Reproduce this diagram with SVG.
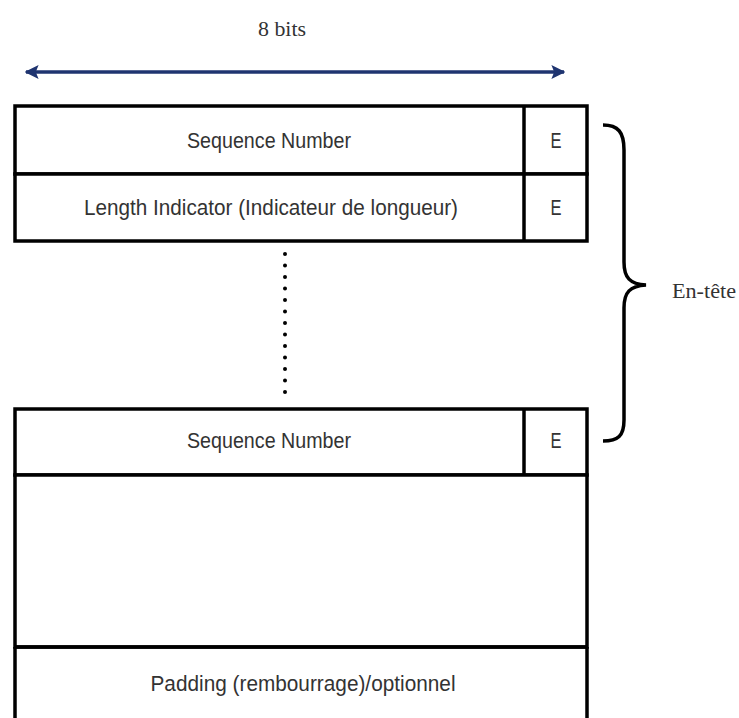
<svg xmlns="http://www.w3.org/2000/svg" width="739" height="718" viewBox="0 0 739 718">
<style>
.box{fill:#fff;stroke:#000;stroke-width:3.5}
.ln{stroke:#000;stroke-width:3.5}
.lbl{font-family:"Liberation Sans","DejaVu Sans",sans-serif;font-size:22px;fill:#333;text-anchor:middle}
.ser{font-family:"Liberation Serif","Times New Roman",serif;font-size:22px;fill:#333}
</style>
<defs>
<marker id="ah" viewBox="0 0 10 10" refX="9" refY="5" markerWidth="4" markerHeight="4" orient="auto-start-reverse" markerUnits="strokeWidth">
<path d="M0,0 L10,5 L0,10 L2,5 Z" fill="#1f3470"/>
</marker>
</defs>
<rect width="739" height="718" fill="#fff"/>
<g id="width-label">
<text class="ser" x="282" y="36" text-anchor="middle" textLength="48" lengthAdjust="spacingAndGlyphs">8 bits</text>
</g>
<g id="connectors">
<line x1="26" y1="72" x2="564" y2="72" stroke="#1f3470" stroke-width="3.5" marker-start="url(#ah)" marker-end="url(#ah)"/>
<line x1="285" y1="254" x2="285" y2="394" stroke="#000" stroke-width="4" stroke-linecap="round" stroke-dasharray="0 11.5"/>
<path d="M603,125 C618,125 624,132 624,150 L624,262 C624,278 630,284 646,285 C630,286 624,292 624,308 L624,420 C624,436 618,441 603,441" fill="none" stroke="#000" stroke-width="3.5"/>
</g>
<g id="row1">
<rect class="box" x="15" y="106" width="572" height="68"/>
<line class="ln" x1="524" y1="106" x2="524" y2="174"/>
<text class="lbl" x="269" y="148" textLength="164" lengthAdjust="spacingAndGlyphs">Sequence Number</text>
<text class="lbl" x="556" y="148" textLength="11" lengthAdjust="spacingAndGlyphs">E</text>
</g>
<g id="row2">
<rect class="box" x="15" y="174" width="572" height="67"/>
<line class="ln" x1="524" y1="174" x2="524" y2="241"/>
<text class="lbl" x="271" y="215" textLength="374" lengthAdjust="spacingAndGlyphs">Length Indicator (Indicateur de longueur)</text>
<text class="lbl" x="556" y="215" textLength="11" lengthAdjust="spacingAndGlyphs">E</text>
</g>
<g id="row3">
<rect class="box" x="15" y="409" width="572" height="66"/>
<line class="ln" x1="524" y1="409" x2="524" y2="475"/>
<text class="lbl" x="269" y="448" textLength="164" lengthAdjust="spacingAndGlyphs">Sequence Number</text>
<text class="lbl" x="556" y="448" textLength="11" lengthAdjust="spacingAndGlyphs">E</text>
</g>
<g id="payload">
<rect class="box" x="15" y="475" width="572" height="172"/>
</g>
<g id="padding">
<path d="M15,647 L587,647 M15,647 L15,720 M587,647 L587,720" class="ln" fill="none"/>
<text class="lbl" x="303" y="691" textLength="305" lengthAdjust="spacingAndGlyphs">Padding (rembourrage)/optionnel</text>
</g>
<g id="header-label">
<text class="ser" x="672" y="298" textLength="64" lengthAdjust="spacingAndGlyphs">En-tête</text>
</g>
</svg>
